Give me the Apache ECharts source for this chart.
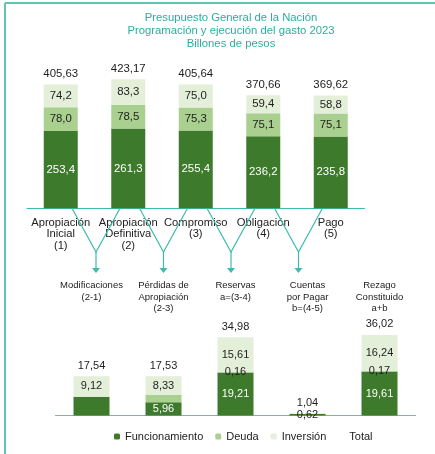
<!DOCTYPE html>
<html>
<head>
<meta charset="utf-8">
<script src="https://cdn.jsdelivr.net/npm/echarts@6/dist/echarts.min.js"></script>
<style>
html,body{margin:0;padding:0;background:#fff;}
#c{width:435px;height:454px;}
</style>
</head>
<body>
<div id="c"></div>
<script>
// ---- data ----
const titleLines = ['Presupuesto General de la Nación', 'Programación y ejecución del gasto 2023', 'Billones de pesos'];
const categoriesTop = ['Apropiación\nInicial\n(1)', 'Apropiación\nDefinitiva\n(2)', 'Compromiso\n(3)', 'Obligación\n(4)', 'Pago\n(5)'];
const funcTop = [253.4, 261.3, 255.4, 236.2, 235.8];
const deudaTop = [78.0, 78.5, 75.3, 75.1, 75.1];
const invTop = [74.2, 83.3, 75.0, 59.4, 58.8];
const totalTop = [405.63, 423.17, 405.64, 370.66, 369.62];

const categoriesBottom = ['Modificaciones\n(2-1)', 'Pérdidas de\nApropiación\n(2-3)', 'Reservas\na=(3-4)', 'Cuentas\npor Pagar\nb=(4-5)', 'Rezago\nConstituido\na+b'];
const funcBottom = [8.42, 5.96, 19.21, 0.62, 19.61];
const deudaBottom = [0, 3.24, 0.16, 0, 0.17];
const invBottom = [9.12, 8.33, 15.61, 0.42, 16.24];
const totalBottom = [17.54, 17.53, 34.98, 1.04, 36.02];
const funcBottomLabelShown = [false, true, true, true, true];
const deudaBottomLabelShown = [false, false, true, false, true];
const invBottomLabelShown = [true, true, true, false, true];
const funcBottomLabelDark = [false, false, false, true, false];

const seriesNames = ['Funcionamiento', 'Deuda', 'Inversión', 'Total'];

// ---- style ----
const FONT = '"Liberation Sans", Arial, sans-serif';
const C_FUNC = '#3e7a2c';
const C_DEUDA = '#a9d08f';
const C_INV = '#e3efd8';
const TEAL = '#3cbcaa';
const TXT = '#1e1e1e';

function items(values, shown, dark) {
  return values.map((v, i) => {
    if (!shown) return v;
    const lab = { show: shown[i] };
    if (dark && dark[i]) lab.color = TXT;
    return { value: v, label: lab };
  });
}

function stackSeries(name, data, color, labelColor, stack, axisIdx, digits, barWidth) {
  return {
    name: name, type: 'bar', stack: stack,
    xAxisIndex: axisIdx, yAxisIndex: axisIdx === 0 ? 0 : 1,
    barWidth: barWidth, barGap: '-100%',
    itemStyle: { color: color },
    label: {
      show: true, position: 'inside', color: labelColor,
      fontFamily: FONT, fontSize: axisIdx === 0 ? 11.4 : 11,
      formatter: p => Number(p.value).toFixed(digits).replace('.', ',')
    },
    data: data
  };
}
function totalSeries(data, axisIdx, barWidth) {
  return {
    name: 'Total', type: 'bar',
    xAxisIndex: axisIdx, yAxisIndex: axisIdx === 0 ? 0 : 1,
    barWidth: barWidth, barGap: '-100%', z: 1,
    itemStyle: { color: 'rgba(0,0,0,0)' },
    label: {
      show: true, position: 'top', distance: 5, color: TXT,
      fontFamily: FONT, fontSize: axisIdx === 0 ? 11.4 : 11,
      formatter: p => Number(p.value).toFixed(2).replace('.', ',')
    },
    data: data
  };
}

const chart = echarts.init(document.getElementById('c'), null, { renderer: 'canvas' });

const option = {
  backgroundColor: '#fff',
  animation: false,
  title: {
    text: titleLines.join('\n'),
    left: 226, top: 6, textAlign: 'center',
    textStyle: { color: '#2bae9f', fontFamily: FONT, fontSize: 11.3, fontWeight: 'normal', lineHeight: 13.3 }
  },
  legend: {
    data: seriesNames,
    left: 109, top: 426,
    itemWidth: 6, itemHeight: 6, itemGap: 12,
    textStyle: { color: '#222', fontFamily: FONT, fontSize: 11 }
  },
  grid: [
    { left: 27, top: 71.05, width: 337.5, height: 137.25, containLabel: false },
    { left: 55.5, top: 326, width: 360, height: 89.5, containLabel: false }
  ],
  xAxis: [
    {
      type: 'category', gridIndex: 0, data: categoriesTop,
      axisLine: { lineStyle: { color: TEAL, width: 1 } },
      axisTick: { show: false },
      axisLabel: { interval: 0, margin: 9, color: '#222', fontFamily: FONT, fontSize: 11.2, lineHeight: 11.3 }
    },
    {
      type: 'category', gridIndex: 1, data: categoriesBottom, position: 'bottom',
      axisLine: { lineStyle: { color: '#8aa5de', width: 1 } },
      axisTick: { show: false },
      axisLabel: { show: false }
    },
    {
      type: 'category', gridIndex: 1, data: categoriesBottom, position: 'top',
      axisLine: { show: false },
      axisTick: { show: false },
      axisLabel: { interval: 0, margin: 46, verticalAlign: 'top', color: '#222', fontFamily: FONT, fontSize: 9.5, lineHeight: 11.5 }
    }
  ],
  yAxis: [
    { type: 'value', gridIndex: 0, min: 0, max: 450, show: false, splitLine: { show: false } },
    { type: 'value', gridIndex: 1, min: 0, max: 40, show: false, splitLine: { show: false } }
  ],
  series: [
    stackSeries('Funcionamiento', funcTop, C_FUNC, '#ffffff', 'top', 0, 1, 34),
    stackSeries('Deuda', deudaTop, C_DEUDA, TXT, 'top', 0, 1, 34),
    stackSeries('Inversión', invTop, C_INV, TXT, 'top', 0, 1, 34),
    totalSeries(totalTop, 0, 34),
    stackSeries('Funcionamiento', items(funcBottom, funcBottomLabelShown, funcBottomLabelDark), C_FUNC, '#ffffff', 'bot', 1, 2, 36),
    stackSeries('Deuda', items(deudaBottom, deudaBottomLabelShown), C_DEUDA, TXT, 'bot', 1, 2, 36),
    stackSeries('Inversión', items(invBottom, invBottomLabelShown), C_INV, TXT, 'bot', 1, 2, 36),
    totalSeries(totalBottom, 1, 36)
  ]
};
chart.setOption(option);

// ---- decorations: frame, V connectors and arrows ----
const gfx = [
  { type: 'line', shape: { x1: 5, y1: 3, x2: 5, y2: 454 }, style: { stroke: '#62c4b8', lineWidth: 2 }, silent: true },
  { type: 'line', shape: { x1: 5, y1: 3, x2: 435, y2: 3 }, style: { stroke: '#62c4b8', lineWidth: 2 }, silent: true }
];
const axisY = chart.convertToPixel({ yAxisIndex: 0 }, 0);
const apexY = 252;
const arrowY = 268;
for (let i = 0; i < categoriesTop.length - 1; i++) {
  const a = chart.convertToPixel({ xAxisIndex: 0 }, i);
  const b = chart.convertToPixel({ xAxisIndex: 0 }, i + 1);
  const mid = (a + b) / 2 + 1.5;
  gfx.push({ type: 'polyline', shape: { points: [[mid - 24, axisY], [mid, apexY], [mid + 24, axisY]] }, style: { stroke: TEAL, lineWidth: 1.2, fill: null }, silent: true, z: 10 });
  gfx.push({ type: 'line', shape: { x1: mid, y1: apexY, x2: mid, y2: arrowY }, style: { stroke: TEAL, lineWidth: 1.2 }, silent: true, z: 10 });
  gfx.push({ type: 'polygon', shape: { points: [[mid - 4, arrowY], [mid + 4, arrowY], [mid, arrowY + 5]] }, style: { fill: TEAL }, silent: true, z: 10 });
}
chart.setOption({ graphic: gfx });
</script>
</body>
</html>
